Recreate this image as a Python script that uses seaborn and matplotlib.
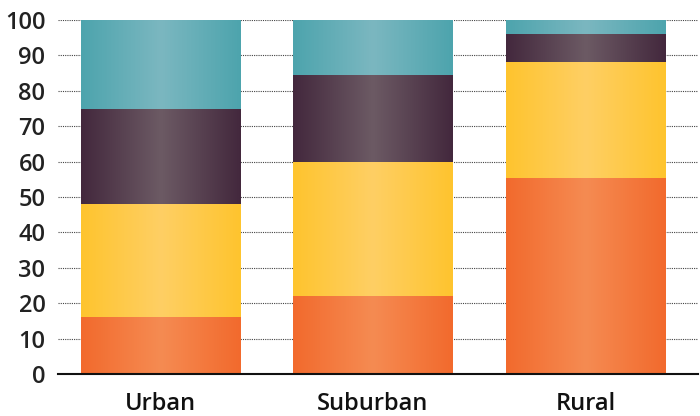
import numpy as np
import pandas as pd
import matplotlib
matplotlib.use("Agg")
import matplotlib.pyplot as plt
import seaborn as sns
from matplotlib.colors import LinearSegmentedColormap

categories = ["Urban", "Suburban", "Rural"]
series_names = ["S1", "S2", "S3", "S4"]
s1 = [16, 22, 55.5]
s2 = [32, 38, 32.5]
s3 = [27, 24.5, 8]
s4 = [25, 15.5, 4]
yticks = [0, 10, 20, 30, 40, 50, 60, 70, 80, 90, 100]

edge_cols = ["#F26A2D", "#FFC42E", "#43283D", "#4DA4AD"]
mid_cols = ["#F58B52", "#FECF64", "#6C5A64", "#7BB7C0"]

sns.set_theme(style="white")
plt.rcParams['font.family'] = ['Open Sans', 'DejaVu Sans']

fig = plt.figure(figsize=(7, 4.16), dpi=100)
ax = fig.add_axes([58/700, 1 - 374/416, 640/700, 354/416])

series = [s1, s2, s3, s4]
cum = np.cumsum(np.array(series), axis=0)
# draw from top cumulative down so lower segments overlay
for i in range(len(series) - 1, -1, -1):
    df = pd.DataFrame({"cat": categories, "val": cum[i]})
    sns.barplot(data=df, x="cat", y="val", ax=ax, color=edge_cols[i],
                width=0.75, saturation=1, zorder=2, linewidth=0)

# gradient fill per patch
n = len(categories)
patches = list(ax.patches)
grad = np.concatenate([np.linspace(0, 1, 128), np.linspace(1, 0, 128)])[None, :]
for idx, p in enumerate(patches):
    si = len(series) - 1 - idx // n
    cmap = LinearSegmentedColormap.from_list("g", [edge_cols[si], mid_cols[si]])
    x0, y0 = p.get_x(), p.get_y()
    w, h = p.get_width(), p.get_height()
    im = ax.imshow(grad, cmap=cmap, aspect="auto", extent=[x0, x0 + w, y0, y0 + h],
                   zorder=2 + idx * 0.01, interpolation="bilinear")
    im.set_clip_path(p)
    p.set_zorder(2 + idx * 0.01)
    im.set_zorder(2 + idx * 0.01 + 0.005)

ax.set_xlim(-0.482, 2.53)
ax.set_ylim(0, 100)
ax.set_yticks(yticks)
ax.set_yticklabels([str(t) for t in yticks])
ax.set_xlabel("")
ax.set_ylabel("")
for sp in ["top", "right", "left"]:
    ax.spines[sp].set_visible(False)
ax.spines["bottom"].set_color("#111111")
ax.spines["bottom"].set_linewidth(1.5)
ax.spines["bottom"].set_zorder(5)
ax.grid(axis="y", linestyle=(0, (1, 1)), color="#444444", linewidth=0.8, zorder=0)
ax.set_axisbelow(True)
ax.tick_params(axis="y", length=0, pad=9, labelsize=17, colors="#222222")
ax.tick_params(axis="x", length=0, pad=13, labelsize=17, colors="#111111")
for lab in ax.get_xticklabels() + ax.get_yticklabels():
    lab.set_fontweight("semibold")

fig.savefig("out.png", dpi=100)
